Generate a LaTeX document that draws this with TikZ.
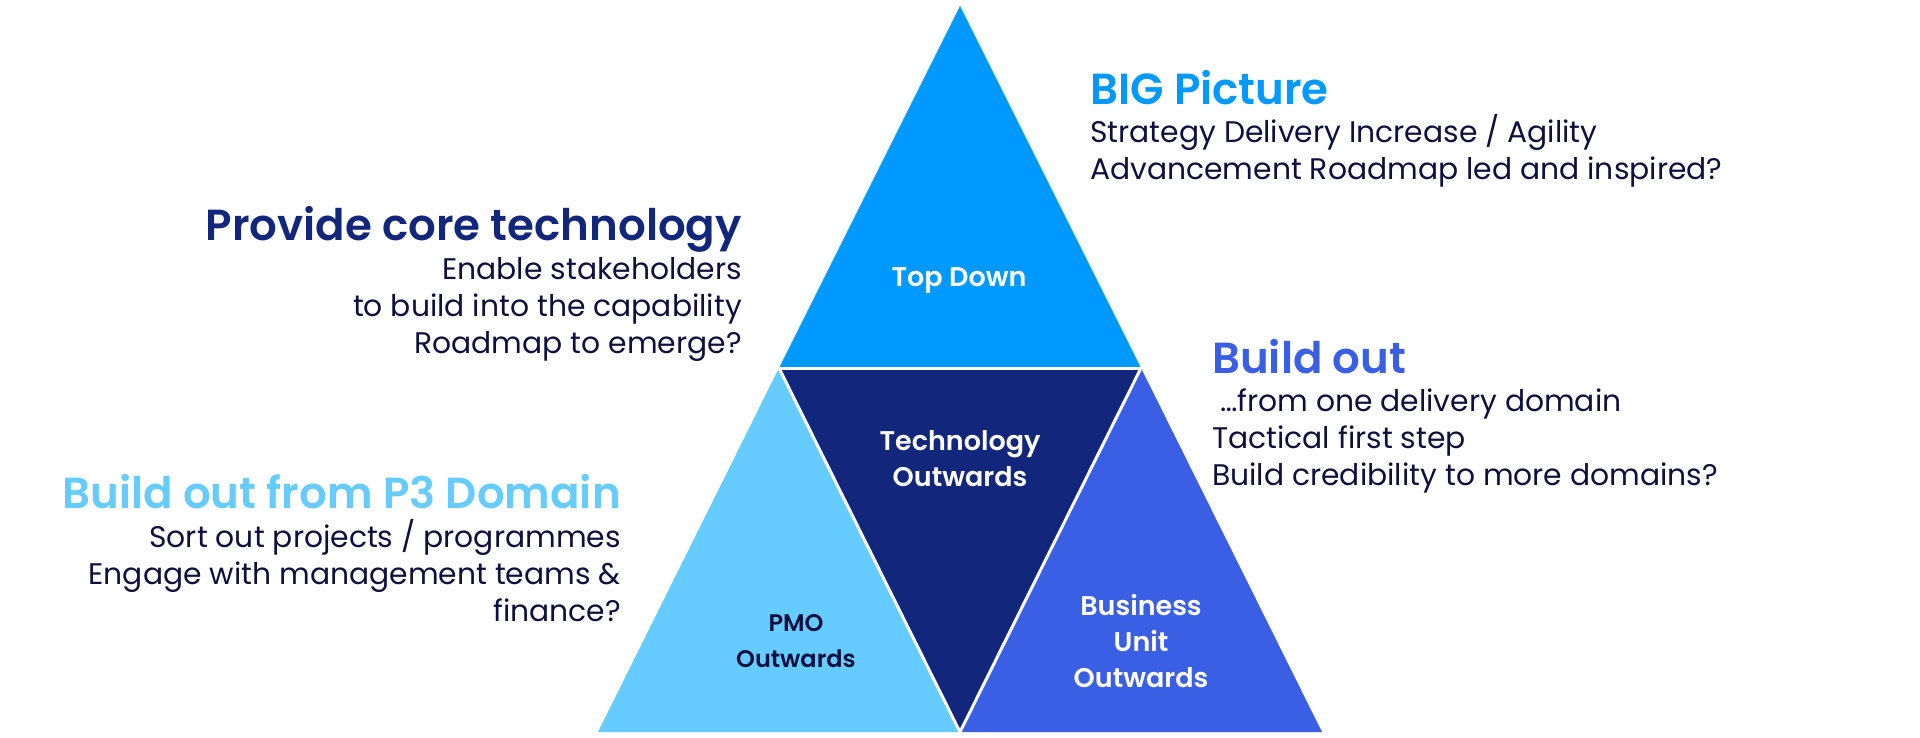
\documentclass[tikz,border=0pt]{standalone}
\usepackage{fontspec}
\setmainfont{Poppins}[BoldFont={Poppins SemiBold}]
\definecolor{topblue}{HTML}{0099FF}
\definecolor{navy}{HTML}{12277C}
\definecolor{lightblue}{HTML}{66CCFF}
\definecolor{midblue}{HTML}{3A5FE5}
\definecolor{textdark}{HTML}{10103F}
\tikzset{
  piece/.style={draw=none},
  gap/.style={draw=white, line width=3pt, line cap=round},
  tlabel/.style={text=white, font=\bfseries\fontsize{27}{36}\selectfont, align=center, inner sep=0pt},
  smalllabel/.style={text=textdark, font=\bfseries\fontsize{24}{36.5}\selectfont, align=center, inner sep=0pt},
  headline/.style={font=\bfseries\fontsize{43.5}{50}\selectfont, inner sep=0pt},
  bodyline/.style={text=textdark, font=\fontsize{29.8}{36}\selectfont, inner sep=0pt},
}
\begin{document}
\begin{tikzpicture}[x=1pt, y=-1pt]
\useasboundingbox (0,0) rectangle (1920,737);
% corners of the pyramid
\coordinate (A) at (960,6);
\coordinate (L) at (779,368);
\coordinate (R) at (1141,368);
\coordinate (BL) at (598,732);
\coordinate (BC) at (960,732);
\coordinate (BR) at (1322,732);
% pieces
\fill[piece, topblue] (A) -- (L) -- (R) -- cycle;
\fill[piece, navy] (L) -- (R) -- (BC) -- cycle;
\fill[piece, lightblue] (L) -- (BL) -- (BC) -- cycle;
\fill[piece, midblue] (R) -- (BC) -- (BR) -- cycle;
\draw[gap] (L) -- (R);
\draw[gap] (L) -- (BC);
\draw[gap] (R) -- (BC);
% labels in pieces
\node[tlabel] (top) at (959,281) {Top Down};
\node[tlabel] (tech) at (960,459) {Technology\\Outwards};
\node[smalllabel] (pmo) at (796,641) {PMO\\Outwards};
\node[tlabel] (bu) at (1141,641) {Business\\Unit\\Outwards};
% top right block
\node[headline, text=topblue, anchor=base west] (bigh) at (1090,104) {BIG Picture};
\node[bodyline, anchor=base west] (big1) at (1090,142) {Strategy Delivery Increase / Agility};
\node[bodyline, anchor=base west] (big2) at (1090,179) {Advancement Roadmap led and inspired?};
% top left block
\node[headline, text=navy, anchor=base east] (coreh) at (742,240) {Provide core technology};
\node[bodyline, anchor=base east] (core1) at (742,279) {Enable stakeholders};
\node[bodyline, anchor=base east] (core2) at (742,316) {to build into the capability};
\node[bodyline, anchor=base east] (core3) at (742,353) {Roadmap to emerge?};
% right middle block
\node[headline, text=midblue, anchor=base west] (buh) at (1212,373) {Build out};
\node[bodyline, anchor=base west] (bu1) at (1212,411) {\ …from one delivery domain};
\node[bodyline, anchor=base west] (bu2) at (1212,448) {Tactical first step};
\node[bodyline, anchor=base west] (bu3) at (1212,485) {Build credibility to more domains?};
% left bottom block
\node[headline, text=lightblue, anchor=base east] (p3h) at (621,508) {Build out from P3 Domain};
\node[bodyline, anchor=base east] (p31) at (621,547) {Sort out projects / programmes};
\node[bodyline, anchor=base east] (p32) at (621,584) {Engage with management teams \&};
\node[bodyline, anchor=base east] (p33) at (621,621) {finance?};
\end{tikzpicture}
\end{document}
